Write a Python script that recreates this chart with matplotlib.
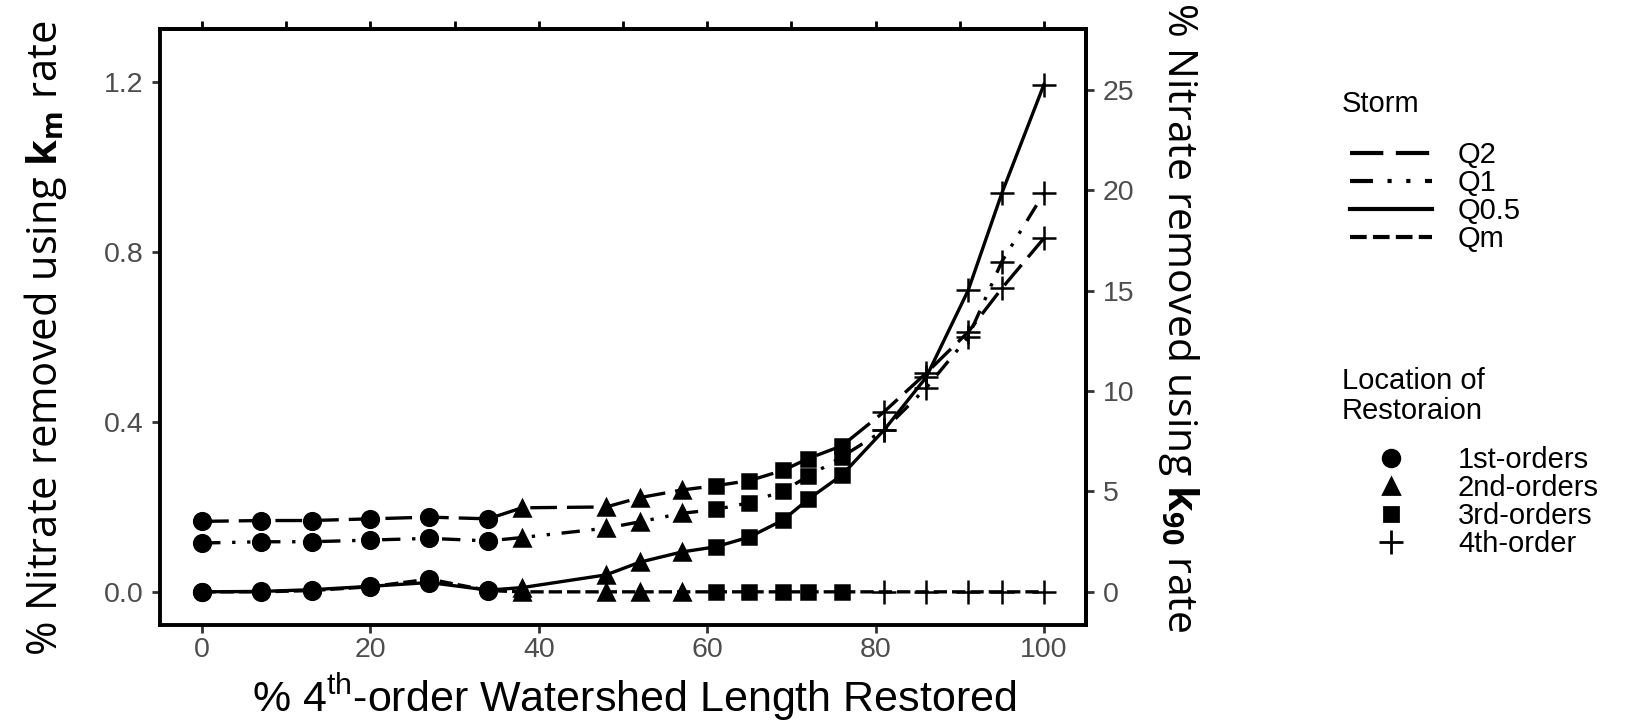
import numpy as np
import matplotlib
matplotlib.use("Agg")
import matplotlib.pyplot as plt
from matplotlib.lines import Line2D

plt.rcParams['font.family'] = ['Liberation Sans', 'DejaVu Sans']
plt.rcParams['mathtext.fontset'] = 'custom'
plt.rcParams['mathtext.rm'] = 'Open Sans'
plt.rcParams['mathtext.bf'] = 'Open Sans:bold'

# % of 4th-order watershed length restored
pct_restored = [0, 7, 13, 20, 27, 34, 38, 48, 52, 57, 61, 65, 69, 72, 76, 81, 86, 91, 95, 100]
# location of restoration for each point
location = ['1st'] * 6 + ['2nd'] * 4 + ['3rd'] * 5 + ['4th'] * 5

# % nitrate removed (k_m rate) per storm
q2 = [0.166, 0.168, 0.168, 0.172, 0.176, 0.172, 0.198, 0.200, 0.222, 0.240,
      0.250, 0.262, 0.286, 0.314, 0.344, 0.424, 0.515, 0.612, 0.715, 0.833]
q1 = [0.115, 0.118, 0.118, 0.122, 0.126, 0.120, 0.128, 0.150, 0.165, 0.185,
      0.194, 0.210, 0.238, 0.272, 0.318, 0.381, 0.480, 0.600, 0.778, 0.939]
q05 = [0.0, 0.001, 0.005, 0.013, 0.022, 0.004, 0.010, 0.040, 0.070, 0.094,
       0.106, 0.129, 0.169, 0.218, 0.275, 0.381, 0.505, 0.710, 0.939, 1.195]
qm = [0.0, 0.0, 0.003, 0.012, 0.030, 0.003, 0.0, 0.0, 0.0, 0.0,
      0.0, 0.0, 0.0, 0.0, 0.0, 0.0, 0.0, 0.0, 0.0, 0.0]

storms = ['Q2', 'Q1', 'Q0.5', 'Qm']
storm_values = [q2, q1, q05, qm]
storm_dashes = [(0, (8, 3)), (0, (5.5, 3.5, 1, 3.5, 1, 3.5)), '-', (0, (4, 1.5))]

loc_keys = ['1st', '2nd', '3rd', '4th']
loc_labels = ['1st-orders', '2nd-orders', '3rd-orders', '4th-order']
loc_markers = ['o', '^', 's', '+']
loc_sizes = [12, 12, 10.5, 17]

k_scale = 21.15  # k90 axis = k_m axis * k_scale

fig = plt.figure(figsize=(16.38, 7.25), dpi=100)
ax = fig.add_axes([0.0977, 0.138, 0.5653, 0.822])

x = np.array(pct_restored)
loc = np.array(location)
for vals, ls in zip(storm_values, storm_dashes):
    y = np.array(vals)
    ax.plot(x, y, color='black', lw=2.4, linestyle=ls, zorder=2)
    for key, mk, ms in zip(loc_keys, loc_markers, loc_sizes):
        sel = loc == key
        ax.plot(x[sel], y[sel], linestyle='none', marker=mk, ms=ms,
                color='black', mew=1.8, zorder=3)

ax.set_xlim(-5, 105)
ax.set_ylim(-0.078, 1.326)
ax.set_xticks([0, 20, 40, 60, 80, 100])
ax.set_yticks([0.0, 0.4, 0.8, 1.2])
ax.set_yticklabels(['0.0', '0.4', '0.8', '1.2'])
for s in ax.spines.values():
    s.set_linewidth(2.8)
    s.set_color('black')
tick_kw = dict(direction='out', length=6, width=2, color='#333333',
               labelcolor='#4d4d4d', labelsize=20.5, pad=6)
ax.tick_params(axis='both', **tick_kw)
ax.tick_params(axis='x', pad=3)

sec_y = ax.secondary_yaxis('right', functions=(lambda v: v * k_scale, lambda v: v / k_scale))
sec_y.set_yticks([0, 5, 10, 15, 20, 25])
sec_y.tick_params(**tick_kw)
sec_y.spines['right'].set_linewidth(2.8)

top_x = ax.secondary_xaxis('top')
top_x.set_xticks(np.arange(0, 101, 10))
top_x.tick_params(direction='out', length=6, width=2, color='black', labeltop=False)
top_x.spines['top'].set_linewidth(2.8)

ax.set_xlabel(r'% 4$^{\mathregular{th}}$-order Watershed Length Restored',
              fontsize=31, labelpad=6)
ax.xaxis.label.set_x(0.512)
ax.set_ylabel(r'% Nitrate removed using $\mathbf{k_m}$ rate',
              fontsize=30, family='Open Sans', labelpad=25)
ax.yaxis.label.set_y(0.481)
sec_y.set_ylabel(r'% Nitrate removed using $\mathbf{k_{90}}$ rate',
                 fontsize=29.5, family='Open Sans', rotation=270, labelpad=48)
sec_y.yaxis.label.set_y(0.516)

# legends: titles as figure text, entries through fig.legend
leg_kw = dict(frameon=False, fontsize=21, handlelength=2.8, handletextpad=0.9,
              labelspacing=0.0, borderpad=0, borderaxespad=0, loc='center left')

fig.text(0.8193, 0.8566, 'Storm', fontsize=21, va='center', ha='left')
storm_handles = [Line2D([], [], color='black', lw=3, linestyle=ls) for ls in storm_dashes]
fig.legend(storm_handles, storms, bbox_to_anchor=(0.8242, 0.7276), **leg_kw)

fig.text(0.8193, 1 - 381 / 725, 'Location of', fontsize=21, va='center', ha='left')
fig.text(0.8193, 1 - 410.5 / 725, 'Restoraion', fontsize=21, va='center', ha='left')
loc_handles = [Line2D([], [], color='black', linestyle='none', marker=mk, ms=ms, mew=2)
               for mk, ms in zip(loc_markers, loc_sizes)]
fig.legend(loc_handles, loc_labels, bbox_to_anchor=(0.8242, 0.3069), **leg_kw)

fig.savefig('out.png', dpi=100)
